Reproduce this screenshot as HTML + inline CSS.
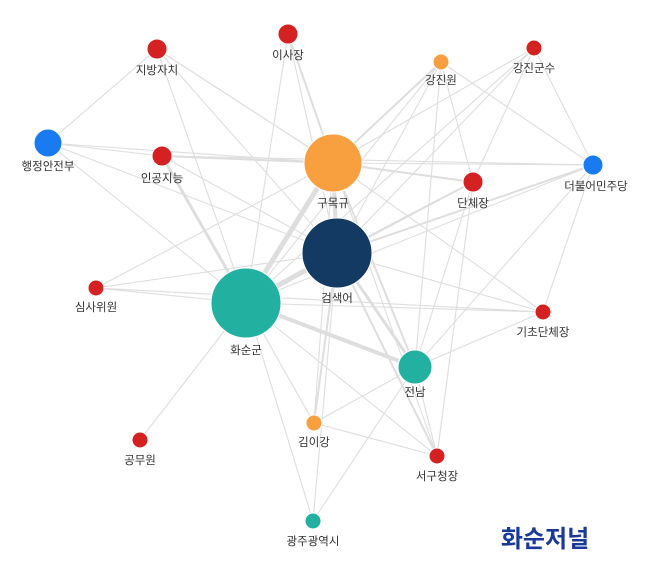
<!DOCTYPE html>
<html><head><meta charset="utf-8"><style>
html,body{margin:0;padding:0;background:#fff;}
svg{display:block;}
text{font-family:"Liberation Sans","Noto Sans CJK KR",sans-serif;font-size:11.5px;fill:#333;text-anchor:middle;}
</style></head><body>
<svg width="647" height="564" viewBox="0 0 647 564" xmlns="http://www.w3.org/2000/svg">
<g stroke="#dedede" stroke-width="1.1" fill="none">
<line x1="246" y1="303" x2="157" y2="49"/>
<line x1="246" y1="303" x2="288" y2="34"/>
<line x1="246" y1="303" x2="48" y2="143"/>
<line x1="246" y1="303" x2="162" y2="156" stroke-width="3"/>
<line x1="246" y1="303" x2="96" y2="288"/>
<line x1="246" y1="303" x2="140" y2="440"/>
<line x1="246" y1="303" x2="313" y2="521"/>
<line x1="246" y1="303" x2="437" y2="456"/>
<line x1="246" y1="303" x2="543" y2="312"/>
<line x1="246" y1="303" x2="441" y2="62"/>
<line x1="246" y1="303" x2="534" y2="48"/>
<line x1="246" y1="303" x2="593" y2="165"/>
<line x1="246" y1="303" x2="473" y2="182"/>
<line x1="246" y1="303" x2="314" y2="423"/>
<line x1="246" y1="303" x2="333" y2="163" stroke-width="5"/>
<line x1="246" y1="303" x2="337" y2="253" stroke-width="5"/>
<line x1="246" y1="303" x2="415" y2="367" stroke-width="4"/>
<line x1="333" y1="163" x2="157" y2="49"/>
<line x1="333" y1="163" x2="288" y2="34" stroke-width="2"/>
<line x1="333" y1="163" x2="48" y2="143"/>
<line x1="333" y1="163" x2="162" y2="156" stroke-width="2"/>
<line x1="333" y1="163" x2="441" y2="62" stroke-width="2"/>
<line x1="333" y1="163" x2="534" y2="48"/>
<line x1="333" y1="163" x2="593" y2="165"/>
<line x1="333" y1="163" x2="473" y2="182" stroke-width="2"/>
<line x1="333" y1="163" x2="96" y2="288"/>
<line x1="333" y1="163" x2="415" y2="367" stroke-width="2"/>
<line x1="333" y1="163" x2="337" y2="253" stroke-width="4"/>
<line x1="333" y1="163" x2="437" y2="456"/>
<line x1="333" y1="163" x2="543" y2="312"/>
<line x1="337" y1="253" x2="157" y2="49"/>
<line x1="337" y1="253" x2="288" y2="34"/>
<line x1="337" y1="253" x2="48" y2="143"/>
<line x1="337" y1="253" x2="162" y2="156"/>
<line x1="337" y1="253" x2="96" y2="288"/>
<line x1="337" y1="253" x2="441" y2="62"/>
<line x1="337" y1="253" x2="534" y2="48"/>
<line x1="337" y1="253" x2="593" y2="165" stroke-width="2"/>
<line x1="337" y1="253" x2="473" y2="182" stroke-width="2"/>
<line x1="337" y1="253" x2="543" y2="312"/>
<line x1="337" y1="253" x2="415" y2="367" stroke-width="3"/>
<line x1="337" y1="253" x2="314" y2="423" stroke-width="2"/>
<line x1="337" y1="253" x2="437" y2="456" stroke-width="2"/>
<line x1="337" y1="253" x2="313" y2="521"/>
<line x1="415" y1="367" x2="473" y2="182"/>
<line x1="415" y1="367" x2="593" y2="165"/>
<line x1="415" y1="367" x2="543" y2="312"/>
<line x1="415" y1="367" x2="314" y2="423"/>
<line x1="415" y1="367" x2="437" y2="456"/>
<line x1="415" y1="367" x2="313" y2="521"/>
<line x1="415" y1="367" x2="441" y2="62"/>
<line x1="48" y1="143" x2="157" y2="49"/>
<line x1="48" y1="143" x2="162" y2="156"/>
<line x1="441" y1="62" x2="593" y2="165"/>
<line x1="534" y1="48" x2="593" y2="165"/>
<line x1="441" y1="62" x2="473" y2="182"/>
<line x1="534" y1="48" x2="473" y2="182"/>
<line x1="593" y1="165" x2="543" y2="312"/>
<line x1="473" y1="182" x2="437" y2="456"/>
<line x1="314" y1="423" x2="437" y2="456"/>
<line x1="314" y1="423" x2="333" y2="163"/>
<line x1="96" y1="288" x2="543" y2="312"/>
<line x1="162" y1="156" x2="593" y2="165"/>
<line x1="157" y1="49" x2="333" y2="163"/>
</g>
<g stroke="#fff" stroke-width="1">
<circle cx="157" cy="49" r="10" fill="#d42222"/>
<circle cx="288" cy="34" r="10" fill="#d42222"/>
<circle cx="441" cy="62" r="8" fill="#f8a040"/>
<circle cx="534" cy="48" r="8" fill="#d42222"/>
<circle cx="48" cy="143" r="14" fill="#1a7af0"/>
<circle cx="162" cy="156" r="10" fill="#d42222"/>
<circle cx="473" cy="182" r="10" fill="#d42222"/>
<circle cx="593" cy="165" r="10" fill="#1a7af0"/>
<circle cx="96" cy="288" r="8" fill="#d42222"/>
<circle cx="543" cy="312" r="8" fill="#d42222"/>
<circle cx="314" cy="423" r="8" fill="#f8a040"/>
<circle cx="140" cy="440" r="8" fill="#d42222"/>
<circle cx="437" cy="456" r="8" fill="#d42222"/>
<circle cx="313" cy="521" r="8" fill="#22b0a0"/>
<circle cx="415" cy="367" r="17" fill="#22b0a0"/>
<circle cx="333" cy="163" r="29" fill="#f8a040"/>
<circle cx="337" cy="253" r="35" fill="#123a62"/>
<circle cx="246" cy="303" r="35" fill="#22b0a0"/>
</g>
<text x="157" y="74">지방자치</text>
<text x="288" y="59">이사장</text>
<text x="441" y="84">강진원</text>
<text x="534" y="72">강진군수</text>
<text x="48" y="170">행정안전부</text>
<text x="162" y="182">인공지능</text>
<text x="333" y="207">구목규</text>
<text x="473" y="207">단체장</text>
<text x="596" y="190">더불어민주당</text>
<text x="337" y="302">검색어</text>
<text x="96" y="311">심사위원</text>
<text x="246" y="354">화순군</text>
<text x="543" y="336">기초단체장</text>
<text x="415" y="396">전남</text>
<text x="314" y="446">김이강</text>
<text x="140" y="464">공무원</text>
<text x="437" y="480">서구청장</text>
<text x="313" y="545">광주광역시</text>
<text x="545" y="547" style="font-size:24px;font-weight:bold;fill:#1a3a9a;">화순저널</text>
</svg>
</body></html>
